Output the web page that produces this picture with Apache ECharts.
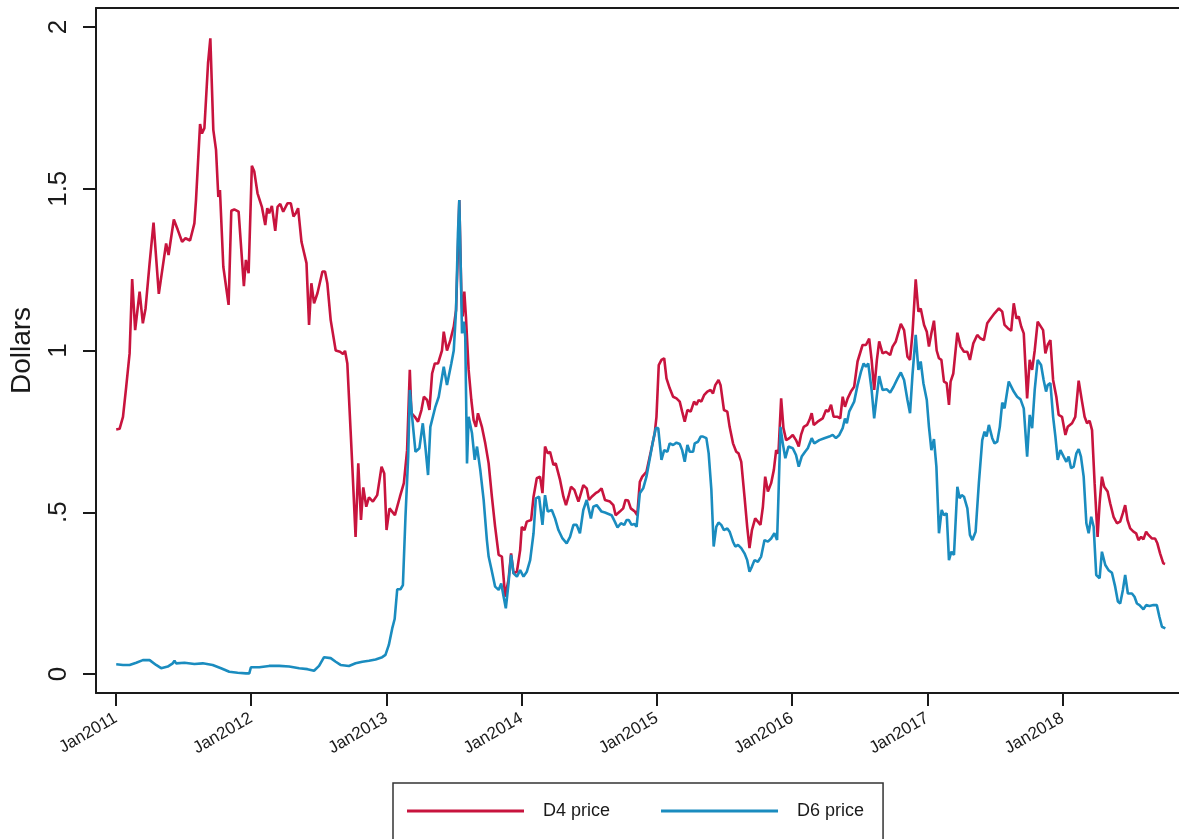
<!DOCTYPE html>
<html>
<head>
<meta charset="utf-8">
<script src="https://cdn.jsdelivr.net/npm/echarts@6/dist/echarts.min.js"></script>
<style>
  html, body { margin: 0; padding: 0; background: #fff; }
  #chart { width: 1179px; height: 839px; }
</style>
</head>
<body>
<div id="chart"></div>
<script>
// Time is in decimal years (2011.5 = mid 2011), prices in dollars
const d4Time = [
  2011.002, 2011.027, 2011.052, 2011.076, 2011.101, 2011.120, 2011.142, 2011.175, 2011.199, 2011.219,
  2011.249, 2011.278, 2011.317, 2011.371, 2011.389, 2011.428, 2011.457, 2011.489, 2011.514, 2011.548,
  2011.580, 2011.592, 2011.622, 2011.636, 2011.654, 2011.681, 2011.698, 2011.720, 2011.740, 2011.757,
  2011.769, 2011.794, 2011.833, 2011.853, 2011.875, 2011.907, 2011.946, 2011.961, 2011.981,
  2012.005, 2012.023, 2012.047, 2012.079, 2012.104, 2012.119, 2012.133, 2012.153, 2012.178, 2012.195,
  2012.215, 2012.237, 2012.268, 2012.293, 2012.313, 2012.330, 2012.347, 2012.372, 2012.409, 2012.428,
  2012.445, 2012.465, 2012.490, 2012.527, 2012.546, 2012.563, 2012.588, 2012.625, 2012.657, 2012.679,
  2012.694, 2012.711, 2012.735, 2012.748, 2012.772, 2012.792, 2012.812, 2012.829, 2012.851, 2012.871,
  2012.900, 2012.932, 2012.964, 2012.984,
  2013.001, 2013.023, 2013.063, 2013.100, 2013.129, 2013.153, 2013.173, 2013.185, 2013.210, 2013.234,
  2013.259, 2013.277, 2013.301, 2013.318, 2013.338, 2013.358, 2013.382, 2013.411, 2013.424, 2013.448,
  2013.473, 2013.498, 2013.515, 2013.529, 2013.539, 2013.554, 2013.564, 2013.576, 2013.588, 2013.608,
  2013.628, 2013.645, 2013.662, 2013.677, 2013.706, 2013.731, 2013.756, 2013.780, 2013.804, 2013.830,
  2013.854, 2013.878, 2013.903, 2013.922, 2013.940, 2013.965, 2013.989,
  2014.001, 2014.021, 2014.038, 2014.070, 2014.088, 2014.112, 2014.136, 2014.154, 2014.173, 2014.193,
  2014.210, 2014.235, 2014.252, 2014.284, 2014.309, 2014.328, 2014.346, 2014.365, 2014.390, 2014.420,
  2014.439, 2014.456, 2014.481, 2014.498, 2014.518, 2014.547, 2014.567, 2014.591, 2014.616, 2014.653,
  2014.678, 2014.695, 2014.726, 2014.751, 2014.768, 2014.788, 2014.807, 2014.837, 2014.855, 2014.874,
  2014.892, 2014.923, 2014.955, 2014.984, 2014.997,
  2015.014, 2015.034, 2015.054, 2015.071, 2015.095, 2015.120, 2015.145, 2015.169, 2015.187, 2015.206,
  2015.226, 2015.250, 2015.275, 2015.292, 2015.309, 2015.329, 2015.349, 2015.373, 2015.397, 2015.415,
  2015.432, 2015.456, 2015.471, 2015.496, 2015.521, 2015.538, 2015.563, 2015.587, 2015.604, 2015.624,
  2015.648, 2015.668, 2015.685, 2015.703, 2015.727, 2015.747, 2015.766, 2015.784, 2015.801, 2015.821,
  2015.845, 2015.865, 2015.882, 2015.899, 2015.919, 2015.936, 2015.956, 2015.980,
  2016.005, 2016.029, 2016.049, 2016.066, 2016.086, 2016.111, 2016.128, 2016.145, 2016.160, 2016.189,
  2016.226, 2016.251, 2016.268, 2016.288, 2016.307, 2016.337, 2016.356, 2016.374, 2016.391, 2016.411,
  2016.435, 2016.459, 2016.484, 2016.521, 2016.546, 2016.570, 2016.588, 2016.607, 2016.627, 2016.644,
  2016.669, 2016.693, 2016.725, 2016.743, 2016.767, 2016.804, 2016.828, 2016.853, 2016.872, 2016.890,
  2016.914, 2016.934, 2016.951, 2016.976, 2016.996,
  2017.012, 2017.030, 2017.049, 2017.069, 2017.086, 2017.104, 2017.123, 2017.143, 2017.160, 2017.172,
  2017.192, 2017.222, 2017.246, 2017.271, 2017.296, 2017.315, 2017.340, 2017.369, 2017.394, 2017.418,
  2017.443, 2017.468, 2017.497, 2017.529, 2017.554, 2017.571, 2017.595, 2017.620, 2017.639, 2017.659,
  2017.676, 2017.694, 2017.713, 2017.738, 2017.757, 2017.775, 2017.794, 2017.816, 2017.836, 2017.856,
  2017.873, 2017.890, 2017.910, 2017.930, 2017.954, 2017.971, 2017.996,
  2018.021, 2018.038, 2018.070, 2018.094, 2018.119, 2018.144, 2018.163, 2018.181, 2018.200, 2018.218,
  2018.237, 2018.259, 2018.274, 2018.291, 2018.308, 2018.333, 2018.352, 2018.377, 2018.402, 2018.426,
  2018.446, 2018.463, 2018.480, 2018.500, 2018.524, 2018.544, 2018.561, 2018.581, 2018.598, 2018.618,
  2018.635, 2018.660, 2018.684, 2018.701, 2018.721, 2018.745, 2018.758
];
const d4Price = [
  0.756, 0.758, 0.795, 0.888, 0.991, 1.221, 1.063, 1.182, 1.084, 1.130,
  1.270, 1.395, 1.175, 1.331, 1.295, 1.405, 1.373, 1.336, 1.347, 1.340,
  1.393, 1.465, 1.700, 1.671, 1.687, 1.888, 1.965, 1.682, 1.620, 1.475,
  1.496, 1.259, 1.141, 1.432, 1.436, 1.429, 1.199, 1.280, 1.239,
  1.571, 1.553, 1.486, 1.444, 1.388, 1.440, 1.424, 1.447, 1.370, 1.444,
  1.453, 1.429, 1.455, 1.455, 1.414, 1.424, 1.440, 1.336, 1.270, 1.079,
  1.208, 1.146, 1.177, 1.244, 1.244, 1.208, 1.094, 1.000, 0.996, 0.989,
  0.999, 0.960, 0.754, 0.641, 0.424, 0.651, 0.476, 0.577, 0.517, 0.546,
  0.533, 0.553, 0.641, 0.620,
  0.445, 0.512, 0.491, 0.548, 0.590, 0.692, 0.940, 0.806, 0.795, 0.780,
  0.816, 0.857, 0.847, 0.816, 0.929, 0.960, 0.960, 1.000, 1.058, 1.000,
  1.032, 1.074, 1.125, 1.311, 1.465, 1.177, 1.105, 1.182, 1.105, 0.940,
  0.847, 0.785, 0.764, 0.806, 0.764, 0.713, 0.651, 0.548, 0.455, 0.368,
  0.363, 0.239, 0.291, 0.373, 0.311, 0.316, 0.383,
  0.455, 0.445, 0.471, 0.476, 0.548, 0.605, 0.610, 0.559, 0.703, 0.682,
  0.687, 0.646, 0.651, 0.600, 0.548, 0.522, 0.548, 0.579, 0.569, 0.533,
  0.559, 0.584, 0.574, 0.538, 0.548, 0.559, 0.564, 0.574, 0.538, 0.533,
  0.522, 0.491, 0.502, 0.512, 0.538, 0.536, 0.512, 0.502, 0.491, 0.594,
  0.610, 0.625, 0.687, 0.744, 0.795,
  0.955, 0.971, 0.976, 0.914, 0.883, 0.857, 0.852, 0.842, 0.811, 0.780,
  0.816, 0.811, 0.842, 0.832, 0.847, 0.842, 0.862, 0.873, 0.878, 0.867,
  0.893, 0.909, 0.893, 0.816, 0.811, 0.764, 0.713, 0.687, 0.682, 0.656,
  0.548, 0.455, 0.389, 0.445, 0.481, 0.471, 0.461, 0.517, 0.610, 0.564,
  0.590, 0.631, 0.692, 0.682, 0.852, 0.760, 0.723, 0.729,
  0.739, 0.723, 0.703, 0.739, 0.764, 0.770, 0.785, 0.806, 0.770, 0.780,
  0.790, 0.816, 0.811, 0.832, 0.795, 0.795, 0.790, 0.857, 0.826, 0.852,
  0.873, 0.888, 0.966, 1.017, 1.017, 1.037, 0.971, 0.878, 0.971, 1.028,
  0.991, 0.996, 0.986, 1.012, 1.028, 1.082, 1.063, 0.981, 0.971, 1.053,
  1.220, 1.120, 1.130, 1.079, 1.058,
  1.012, 1.053, 1.092, 1.000, 0.976, 0.971, 0.904, 0.899, 0.832, 0.904,
  0.929, 1.055, 1.012, 0.996, 0.996, 0.971, 1.022, 1.048, 1.037, 1.032,
  1.084, 1.099, 1.115, 1.130, 1.120, 1.079, 1.069, 1.061, 1.146, 1.099,
  1.105, 1.074, 1.053, 0.852, 0.971, 0.940, 1.000, 1.089, 1.076, 1.063,
  0.991, 1.017, 1.032, 0.909, 0.857, 0.801, 0.795,
  0.739, 0.764, 0.775, 0.795, 0.907, 0.842, 0.795, 0.775, 0.783, 0.754,
  0.590, 0.424, 0.528, 0.610, 0.579, 0.564, 0.528, 0.486, 0.466, 0.471,
  0.497, 0.522, 0.476, 0.450, 0.440, 0.435, 0.414, 0.424, 0.416, 0.440,
  0.430, 0.419, 0.419, 0.404, 0.373, 0.342, 0.340
];

const d6Time = [
  2011.002, 2011.052, 2011.101, 2011.150, 2011.199, 2011.249, 2011.297, 2011.334, 2011.383, 2011.420,
  2011.433, 2011.445, 2011.507, 2011.580, 2011.642, 2011.715, 2011.777, 2011.838, 2011.900, 2011.961,
  2011.986, 2011.998,
  2012.060, 2012.133, 2012.207, 2012.281, 2012.355, 2012.416, 2012.465, 2012.502, 2012.539, 2012.588,
  2012.625, 2012.661, 2012.723, 2012.772, 2012.822, 2012.871, 2012.920, 2012.969, 2012.993,
  2013.018, 2013.043, 2013.061, 2013.080, 2013.104, 2013.122, 2013.141, 2013.161, 2013.173, 2013.190,
  2013.215, 2013.244, 2013.269, 2013.288, 2013.308, 2013.325, 2013.362, 2013.387, 2013.424, 2013.448,
  2013.480, 2013.498, 2013.515, 2013.529, 2013.539, 2013.552, 2013.559, 2013.572, 2013.583, 2013.596,
  2013.608, 2013.633, 2013.653, 2013.670, 2013.694, 2013.719, 2013.743, 2013.756, 2013.775, 2013.804,
  2013.830, 2013.849, 2013.867, 2013.883, 2013.903, 2013.922, 2013.940, 2013.965, 2013.989,
  2014.014, 2014.038, 2014.063, 2014.088, 2014.105, 2014.129, 2014.154, 2014.173, 2014.193, 2014.223,
  2014.247, 2014.272, 2014.302, 2014.333, 2014.358, 2014.383, 2014.407, 2014.431, 2014.456, 2014.481,
  2014.512, 2014.530, 2014.555, 2014.591, 2014.616, 2014.665, 2014.689, 2014.709, 2014.734, 2014.759,
  2014.776, 2014.793, 2014.813, 2014.833, 2014.850, 2014.874, 2014.899, 2014.923, 2014.948, 2014.973,
  2014.992,
  2015.010, 2015.034, 2015.054, 2015.078, 2015.095, 2015.120, 2015.145, 2015.169, 2015.187, 2015.206,
  2015.226, 2015.243, 2015.268, 2015.280, 2015.304, 2015.324, 2015.341, 2015.366, 2015.383, 2015.403,
  2015.420, 2015.439, 2015.456, 2015.476, 2015.496, 2015.521, 2015.538, 2015.563, 2015.580, 2015.600,
  2015.624, 2015.648, 2015.668, 2015.685, 2015.703, 2015.722, 2015.747, 2015.771, 2015.796, 2015.821,
  2015.845, 2015.869, 2015.889, 2015.899, 2015.914, 2015.931, 2015.950, 2015.973,
  2016.005, 2016.029, 2016.049, 2016.071, 2016.096, 2016.116, 2016.145, 2016.164, 2016.201, 2016.238,
  2016.275, 2016.300, 2016.324, 2016.349, 2016.374, 2016.391, 2016.405, 2016.422, 2016.459, 2016.484,
  2016.509, 2016.529, 2016.546, 2016.563, 2016.588, 2016.607, 2016.627, 2016.644, 2016.669, 2016.701,
  2016.725, 2016.750, 2016.780, 2016.804, 2016.828, 2016.853, 2016.872, 2016.890, 2016.914, 2016.934,
  2016.951, 2016.971, 2016.996,
  2017.012, 2017.030, 2017.049, 2017.067, 2017.086, 2017.106, 2017.123, 2017.143, 2017.160, 2017.178,
  2017.197, 2017.222, 2017.239, 2017.254, 2017.271, 2017.296, 2017.315, 2017.333, 2017.357, 2017.381,
  2017.406, 2017.423, 2017.438, 2017.455, 2017.480, 2017.497, 2017.517, 2017.536, 2017.554, 2017.571,
  2017.602, 2017.639, 2017.664, 2017.689, 2017.713, 2017.738, 2017.757, 2017.775, 2017.794, 2017.816,
  2017.841, 2017.860, 2017.878, 2017.890, 2017.910, 2017.930, 2017.947, 2017.964, 2017.984,
  2018.008, 2018.028, 2018.045, 2018.063, 2018.082, 2018.102, 2018.119, 2018.136, 2018.156, 2018.176,
  2018.193, 2018.212, 2018.230, 2018.249, 2018.274, 2018.291, 2018.316, 2018.340, 2018.365, 2018.389,
  2018.409, 2018.426, 2018.446, 2018.463, 2018.483, 2018.513, 2018.532, 2018.550, 2018.569, 2018.581,
  2018.598, 2018.618, 2018.642, 2018.672, 2018.697, 2018.716, 2018.735, 2018.760
];
const d6Price = [
  0.030, 0.028, 0.028, 0.035, 0.043, 0.043, 0.028, 0.018, 0.023, 0.033,
  0.041, 0.033, 0.035, 0.031, 0.033, 0.028, 0.018, 0.007, 0.004, 0.002,
  0.002, 0.021,
  0.021, 0.025, 0.025, 0.023, 0.018, 0.015, 0.010, 0.025, 0.052, 0.049,
  0.038, 0.028, 0.025, 0.033, 0.038, 0.041, 0.045, 0.052, 0.059,
  0.090, 0.141, 0.170, 0.262, 0.262, 0.275, 0.486, 0.672, 0.878, 0.795,
  0.687, 0.698, 0.775, 0.703, 0.615, 0.764, 0.826, 0.857, 0.950, 0.893,
  0.960, 1.000, 1.125, 1.362, 1.465, 1.208, 1.053, 1.089, 1.043, 0.651,
  0.795, 0.744, 0.662, 0.703, 0.631, 0.538, 0.414, 0.363, 0.327, 0.270,
  0.260, 0.280, 0.239, 0.203, 0.280, 0.368, 0.311, 0.301, 0.321,
  0.301, 0.316, 0.352, 0.435, 0.543, 0.548, 0.461, 0.553, 0.502, 0.507,
  0.481, 0.445, 0.419, 0.404, 0.424, 0.461, 0.461, 0.435, 0.507, 0.538,
  0.481, 0.517, 0.522, 0.502, 0.499, 0.491, 0.471, 0.453, 0.466, 0.461,
  0.476, 0.476, 0.461, 0.464, 0.455, 0.559, 0.574, 0.610, 0.667, 0.723,
  0.760,
  0.760, 0.662, 0.692, 0.687, 0.713, 0.708, 0.715, 0.711, 0.692, 0.656,
  0.708, 0.687, 0.687, 0.713, 0.718, 0.734, 0.734, 0.729, 0.682, 0.569,
  0.394, 0.455, 0.468, 0.461, 0.445, 0.450, 0.440, 0.409, 0.394, 0.399,
  0.389, 0.373, 0.352, 0.316, 0.332, 0.352, 0.347, 0.363, 0.414, 0.409,
  0.419, 0.435, 0.414, 0.548, 0.764, 0.713, 0.667, 0.703,
  0.698, 0.677, 0.641, 0.672, 0.687, 0.698, 0.729, 0.713, 0.723, 0.729,
  0.734, 0.739, 0.729, 0.739, 0.760, 0.790, 0.775, 0.811, 0.842, 0.893,
  0.934, 0.960, 0.950, 0.960, 0.878, 0.790, 0.862, 0.921, 0.878, 0.880,
  0.870, 0.888, 0.914, 0.932, 0.909, 0.847, 0.806, 0.924, 1.048, 0.940,
  0.966, 0.899, 0.847,
  0.764, 0.692, 0.726, 0.641, 0.435, 0.507, 0.491, 0.497, 0.352, 0.378,
  0.368, 0.579, 0.543, 0.553, 0.548, 0.512, 0.430, 0.414, 0.440, 0.590,
  0.723, 0.749, 0.734, 0.770, 0.729, 0.713, 0.718, 0.764, 0.839, 0.821,
  0.904, 0.873, 0.857, 0.849, 0.821, 0.672, 0.801, 0.760, 0.878, 0.971,
  0.955, 0.909, 0.873, 0.893, 0.899, 0.795, 0.734, 0.662, 0.692,
  0.672, 0.656, 0.672, 0.636, 0.641, 0.682, 0.695, 0.672, 0.610, 0.466,
  0.435, 0.486, 0.455, 0.306, 0.296, 0.378, 0.337, 0.321, 0.313, 0.270,
  0.224, 0.218, 0.260, 0.306, 0.249, 0.249, 0.239, 0.218, 0.213, 0.218,
  0.200, 0.213, 0.210, 0.213, 0.213, 0.177, 0.146, 0.141
];

const yearTicks = [2011, 2012, 2013, 2014, 2015, 2016, 2017, 2018];
const priceTicks = [0, 0.5, 1, 1.5, 2];

const RED = "#c8143e";
const BLUE = "#1a8cbf";
const INK = "#1a1a1a";
const FONT = "Arial, 'Liberation Sans', Helvetica, sans-serif";

const toPairs = (t, v) => t.map((x, i) => [x, v[i]]);

const chart = echarts.init(document.getElementById("chart"), null, { renderer: "canvas" });

chart.setOption({
  animation: false,
  backgroundColor: "#ffffff",
  textStyle: { fontFamily: FONT },
  // the plot region runs to the right edge of the picture: no right border
  grid: {
    left: 93,
    right: 0,
    top: 8,
    bottom: 146,
  },
  legend: {
    left: 393,
    top: 783,
    orient: "horizontal",
    padding: [19, 19, 30, 14],
    borderColor: "#333",
    borderWidth: 1.5,
    borderRadius: 0,
    itemWidth: 117,
    itemHeight: 3,
    itemGap: 51,
    icon: "rect",
    textStyle: {
      color: INK,
      fontSize: 18,
      fontFamily: FONT,
      padding: [0, 0, 0, 14],
    },
    data: ["D4 price", "D6 price"],
  },
  xAxis: [
    {
      type: "value",
      min: 2010.8525,
      max: 2018.861,
      axisLine: { show: true, onZero: false, lineStyle: { color: INK, width: 2 } },
      axisTick: {
        show: true,
        customValues: yearTicks,
        length: 13,
        lineStyle: { color: INK, width: 2 },
      },
      axisLabel: {
        customValues: yearTicks,
        rotate: 30,
        margin: 24,
        color: INK,
        fontSize: 17,
        fontFamily: FONT,
        formatter: (v) => "Jan" + Math.round(v),
      },
      splitLine: { show: false },
    },
    {
      // top frame line only
      type: "value",
      position: "top",
      min: 2010.8525,
      max: 2018.861,
      axisLine: { show: true, onZero: false, lineStyle: { color: INK, width: 2 } },
      axisTick: { show: false },
      axisLabel: { show: false },
      splitLine: { show: false },
    },
  ],
  yAxis: {
    type: "value",
    min: -0.0587,
    max: 2.0587,
    name: "Dollars",
    nameLocation: "middle",
    nameRotate: 90,
    nameGap: 60,
    nameTextStyle: { color: INK, fontSize: 28, fontFamily: FONT },
    axisLine: { show: true, onZero: false, lineStyle: { color: INK, width: 2 } },
    axisTick: {
      show: true,
      customValues: priceTicks,
      length: 13,
      lineStyle: { color: INK, width: 2 },
    },
    axisLabel: {
      customValues: priceTicks,
      rotate: 90,
      margin: 24,
      color: INK,
      fontSize: 26,
      fontFamily: FONT,
      formatter: (v) => (v > 0 && v < 1 ? String(v).replace("0.", ".") : String(v)),
    },
    splitLine: { show: false },
  },
  series: [
    {
      name: "D4 price",
      type: "line",
      data: toPairs(d4Time, d4Price),
      showSymbol: false,
      symbol: "none",
      lineStyle: { color: RED, width: 2.6 },
      itemStyle: { color: RED },
    },
    {
      name: "D6 price",
      type: "line",
      data: toPairs(d6Time, d6Price),
      showSymbol: false,
      symbol: "none",
      lineStyle: { color: BLUE, width: 2.6 },
      itemStyle: { color: BLUE },
    },
  ],
});
</script>
</body>
</html>
